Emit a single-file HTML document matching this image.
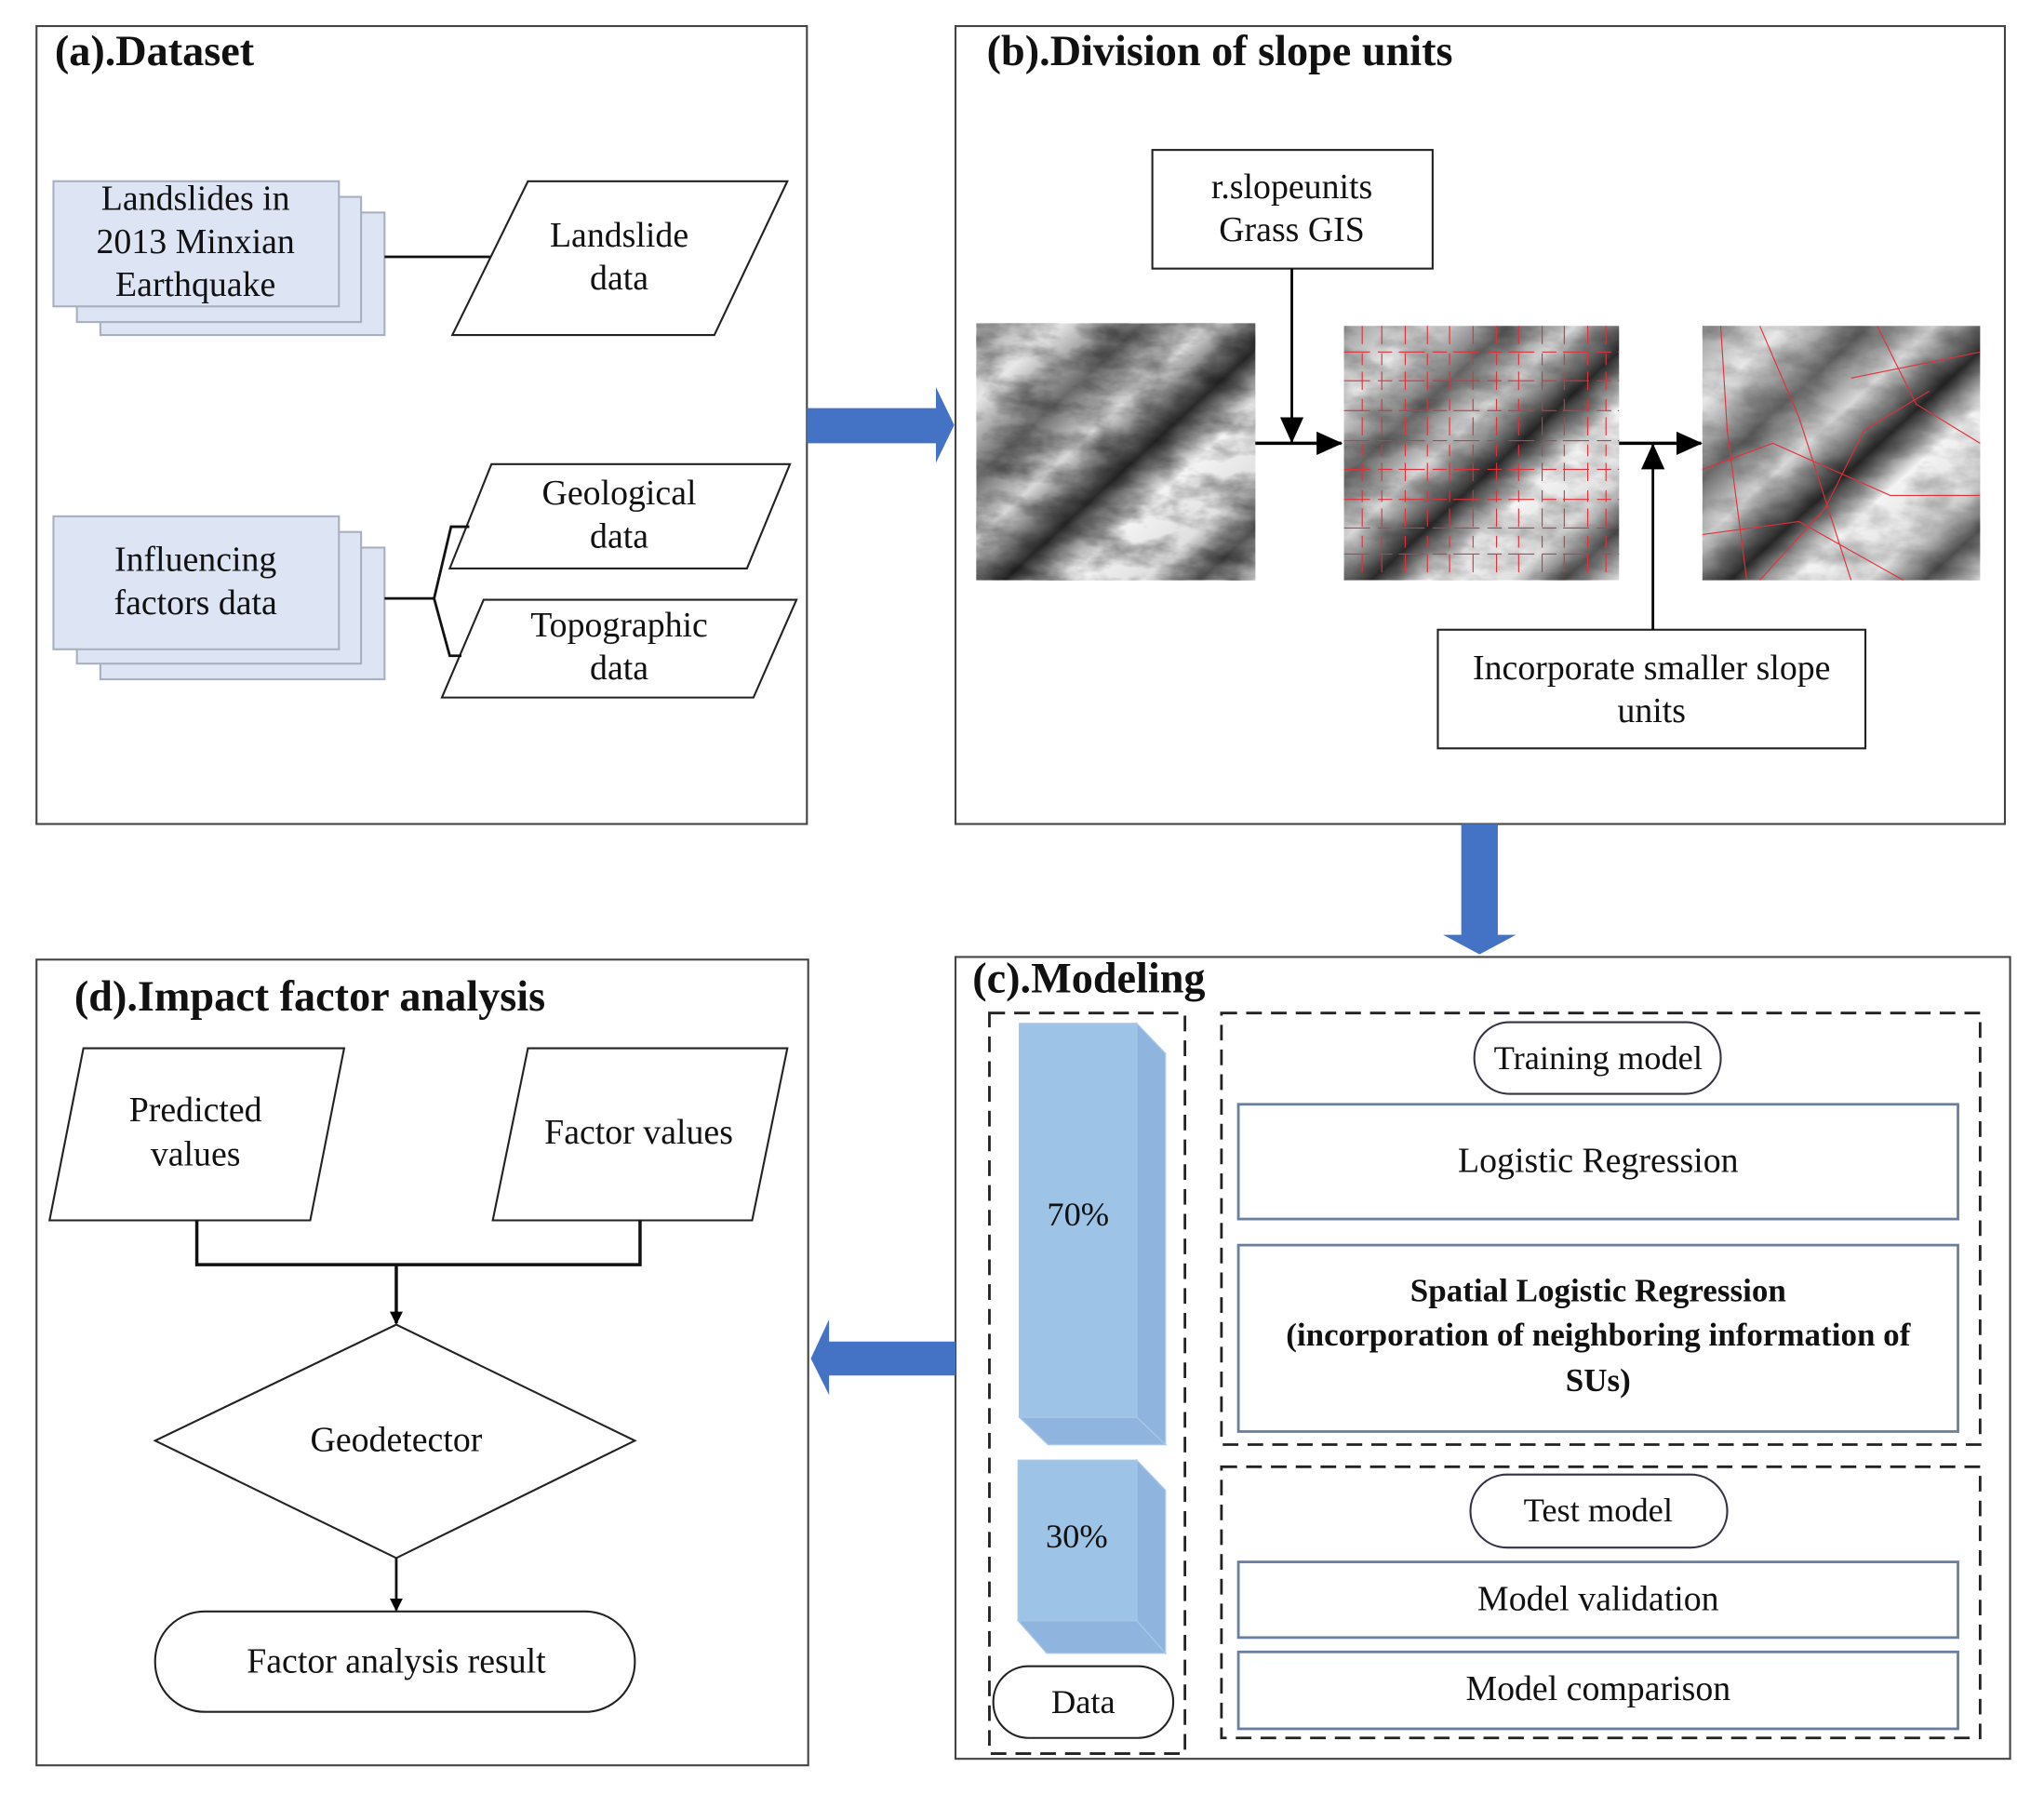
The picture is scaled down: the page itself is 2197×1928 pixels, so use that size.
<!DOCTYPE html>
<html><head><meta charset="utf-8"><style>
html,body{margin:0;padding:0;background:#fff;}
svg{display:block;}
text{font-family:"Liberation Serif",serif;fill:#111;}
</style></head><body>
<svg width="2197" height="1928" viewBox="0 0 1568 1376" preserveAspectRatio="none" xmlns="http://www.w3.org/2000/svg">
<defs>
<linearGradient id="band" x1="0" y1="0" x2="1" y2="1">
<stop offset="0" stop-color="#9a9a9a"/><stop offset="0.15" stop-color="#e8e8e8"/><stop offset="0.3" stop-color="#6a6a6a"/>
<stop offset="0.42" stop-color="#d8d8d8"/><stop offset="0.55" stop-color="#2a2a2a"/><stop offset="0.66" stop-color="#f4f4f4"/>
<stop offset="0.8" stop-color="#e0e0e0"/><stop offset="0.9" stop-color="#555"/><stop offset="1" stop-color="#ddd"/>
</linearGradient>
<filter id="noise" x="0" y="0" width="100%" height="100%">
<feTurbulence type="fractalNoise" baseFrequency="0.03 0.06" numOctaves="4" seed="3"/>
<feColorMatrix type="matrix" values="0 0 0 0 0  0 0 0 0 0  0 0 0 0 0  1.4 0 0 0 -0.5"/>
</filter>
<marker id="ah" markerWidth="10" markerHeight="10" refX="9" refY="5" orient="auto" markerUnits="userSpaceOnUse" viewBox="0 0 10 10">
<path d="M0,0 L10,5 L0,10 z" fill="#000"/></marker>
<marker id="ah2" markerWidth="20" markerHeight="18" refX="19" refY="9" orient="auto" markerUnits="userSpaceOnUse" viewBox="0 0 20 18">
<path d="M0,0 L20,9 L0,18 z" fill="#000"/></marker>
</defs>

<!-- Panel a -->
<rect x="28" y="20" width="591" height="612" fill="none" stroke="#444" stroke-width="1.5"/>
<text x="42" y="50" font-size="33" font-weight="bold">(a).Dataset</text>
<g fill="#dde4f3" stroke="#a8b0c0" stroke-width="1.5">
<rect x="77" y="163" width="218" height="94"/><rect x="59" y="151" width="218" height="96"/><rect x="41" y="139" width="219" height="96"/>
<rect x="77" y="420" width="218" height="101"/><rect x="59" y="408" width="218" height="101"/><rect x="41" y="396" width="219" height="102"/>
</g>
<g font-size="27" text-anchor="middle">
<text x="150" y="161">Landslides in</text><text x="150" y="194">2013 Minxian</text><text x="150" y="227">Earthquake</text>
<text x="150" y="438">Influencing</text><text x="150" y="471">factors data</text>
</g>
<g fill="#fff" stroke="#222" stroke-width="1.5">
<polygon points="405,139 604,139 548,257 347,257"/>
<polygon points="377,356 606,356 573,436 345,436"/>
<polygon points="371,460 611,460 578,535 339,535"/>
</g>
<g font-size="27" text-anchor="middle">
<text x="475" y="189">Landslide</text><text x="475" y="222">data</text>
<text x="475" y="387">Geological</text><text x="475" y="420">data</text>
<text x="475" y="488">Topographic</text><text x="475" y="521">data</text>
</g>
<g fill="none" stroke="#111" stroke-width="2">
<line x1="295" y1="197" x2="376" y2="197"/>
<line x1="295" y1="459" x2="333" y2="459"/>
<path d="M360,404 L346,404 L333,459 L345,503 L354,503"/>
</g>
<path d="M619,313 L718,313 L718,297 L732,326 L718,355 L718,340 L619,340 z" fill="#4472c4"/>

<!-- Panel b -->
<rect x="733" y="20" width="805" height="612" fill="none" stroke="#444" stroke-width="1.5"/>
<text x="757" y="50" font-size="33" font-weight="bold">(b).Division of slope units</text>
<rect x="884" y="115" width="215" height="91" fill="#fff" stroke="#222" stroke-width="1.5"/>
<text x="991" y="152" font-size="27" text-anchor="middle">r.slopeunits</text>
<text x="991" y="185" font-size="27" text-anchor="middle">Grass GIS</text>
<rect x="1103" y="483" width="328" height="91" fill="#fff" stroke="#222" stroke-width="1.5"/>
<text x="1267" y="521" font-size="27" text-anchor="middle">Incorporate smaller slope</text>
<text x="1267" y="554" font-size="27" text-anchor="middle">units</text>
<g>
<rect x="749" y="248" width="214" height="197" fill="url(#band)"/>
<rect x="749" y="248" width="214" height="197" filter="url(#noise)" opacity="0.6"/>
<rect x="1031" y="250" width="211" height="195" fill="url(#band)"/>
<rect x="1031" y="250" width="211" height="195" filter="url(#noise)" opacity="0.4"/>
<rect x="1306" y="250" width="213" height="195" fill="url(#band)"/>
<rect x="1306" y="250" width="213" height="195" filter="url(#noise)" opacity="0.35"/>
</g>
<g fill="none" stroke="#e0303a" stroke-width="0.8">
<path d="M1031,270 H1242 M1031,292 H1242 M1031,315 H1242 M1031,338 H1242 M1031,360 H1242 M1031,383 H1242 M1031,405 H1242 M1031,425 H1242" stroke-dasharray="20 6 11 5"/>
<path d="M1045,250 V445 M1060,250 V445 M1078,250 V445 M1095,250 V445 M1112,250 V445 M1130,250 V445 M1148,250 V445 M1165,250 V445 M1183,250 V445 M1200,250 V445 M1218,250 V445 M1232,250 V445" stroke-dasharray="14 7 9 5"/>
<path d="M1320,250 L1325,330 L1340,445 M1350,250 L1380,320 L1420,445 M1306,360 L1360,340 L1450,380 L1519,380 M1420,290 L1519,270 M1440,250 L1470,310 L1519,340 M1306,410 L1380,400 L1460,445 M1350,445 L1400,390 L1430,330 L1480,300"/>
</g>
<line x1="963" y1="340" x2="1029" y2="340" stroke="#000" stroke-width="2.5" marker-end="url(#ah2)"/>
<line x1="991" y1="206" x2="991" y2="339" stroke="#000" stroke-width="2" marker-end="url(#ah2)"/>
<line x1="1242" y1="340" x2="1305" y2="340" stroke="#000" stroke-width="2.5" marker-end="url(#ah2)"/>
<line x1="1268" y1="483" x2="1268" y2="341" stroke="#000" stroke-width="2" marker-end="url(#ah2)"/>

<path d="M1121,632 L1149,632 L1149,717 L1163,717 L1135,732 L1107,717 L1121,717 z" fill="#4472c4"/>

<!-- Panel c -->
<rect x="733" y="734" width="809" height="615" fill="none" stroke="#444" stroke-width="1.5"/>
<text x="746" y="761" font-size="33" font-weight="bold">(c).Modeling</text>
<g fill="none" stroke="#222" stroke-width="2" stroke-dasharray="12 7">
<rect x="759" y="777" width="150" height="568"/>
<rect x="937" y="777" width="582" height="331"/>
<rect x="937" y="1125" width="582" height="208"/>
</g>
<g stroke="#a8c6e6" stroke-width="1">
<path d="M872,785 L894,808 L894,1108 L872,1087 z" fill="#8fb4de"/>
<path d="M782,1087 L872,1087 L894,1108 L804,1108 z" fill="#8fb4de"/>
<rect x="782" y="785" width="90" height="302" fill="#9dc3e6"/>
<path d="M872,1120 L894,1143 L894,1268 L872,1243 z" fill="#8fb4de"/>
<path d="M781,1243 L872,1243 L894,1268 L803,1268 z" fill="#8fb4de"/>
<rect x="781" y="1120" width="91" height="123" fill="#9dc3e6"/>
</g>
<text x="827" y="940" font-size="26" text-anchor="middle">70%</text>
<text x="826" y="1187" font-size="26" text-anchor="middle">30%</text>
<rect x="762" y="1278" width="138" height="55" rx="27" fill="#fff" stroke="#222" stroke-width="1.5"/>
<text x="831" y="1314" font-size="26" text-anchor="middle">Data</text>
<rect x="1131" y="784" width="189" height="55" rx="27" fill="#fff" stroke="#334" stroke-width="1.5"/>
<text x="1226" y="820" font-size="26" text-anchor="middle">Training model</text>
<rect x="1128" y="1131" width="197" height="56" rx="28" fill="#fff" stroke="#334" stroke-width="1.5"/>
<text x="1226" y="1167" font-size="26" text-anchor="middle">Test model</text>
<g fill="#fff" stroke="#6a7fa0" stroke-width="2">
<rect x="950" y="847" width="552" height="88"/>
<rect x="950" y="955" width="552" height="143"/>
<rect x="950" y="1198" width="552" height="58"/>
<rect x="950" y="1267" width="552" height="59"/>
</g>
<g font-size="27" text-anchor="middle">
<text x="1226" y="899">Logistic Regression</text>
<text x="1226" y="998" font-weight="bold" font-size="25">Spatial Logistic Regression</text>
<text x="1226" y="1032" font-weight="bold" font-size="25">(incorporation of neighboring information of</text>
<text x="1226" y="1067" font-weight="bold" font-size="25">SUs)</text>
<text x="1226" y="1235">Model validation</text>
<text x="1226" y="1304">Model comparison</text>
</g>

<path d="M733,1029 L636,1029 L636,1012 L622,1042 L636,1070 L636,1055 L733,1055 z" fill="#4472c4"/>

<!-- Panel d -->
<rect x="28" y="736" width="592" height="618" fill="none" stroke="#444" stroke-width="1.5"/>
<text x="57" y="775" font-size="33" font-weight="bold">(d).Impact factor analysis</text>
<g fill="#fff" stroke="#222" stroke-width="1.5">
<polygon points="64,804 264,804 238,936 38,936"/>
<polygon points="405,804 604,804 577,936 378,936"/>
<polygon points="304,1016 487,1105 304,1195 119,1105"/>
<rect x="119" y="1236" width="368" height="77" rx="38"/>
</g>
<g font-size="27" text-anchor="middle">
<text x="150" y="860">Predicted</text><text x="150" y="894">values</text>
<text x="490" y="877">Factor values</text>
<text x="304" y="1113">Geodetector</text>
<text x="304" y="1283">Factor analysis result</text>
</g>
<g fill="none" stroke="#111" stroke-width="2.5">
<path d="M151,936 V970 H491 V936"/>
</g>
<line x1="304" y1="970" x2="304" y2="1015" stroke="#111" stroke-width="2.5" marker-end="url(#ah)"/>
<line x1="304" y1="1195" x2="304" y2="1235" stroke="#111" stroke-width="2" marker-end="url(#ah)"/>
</svg>
</body></html>
